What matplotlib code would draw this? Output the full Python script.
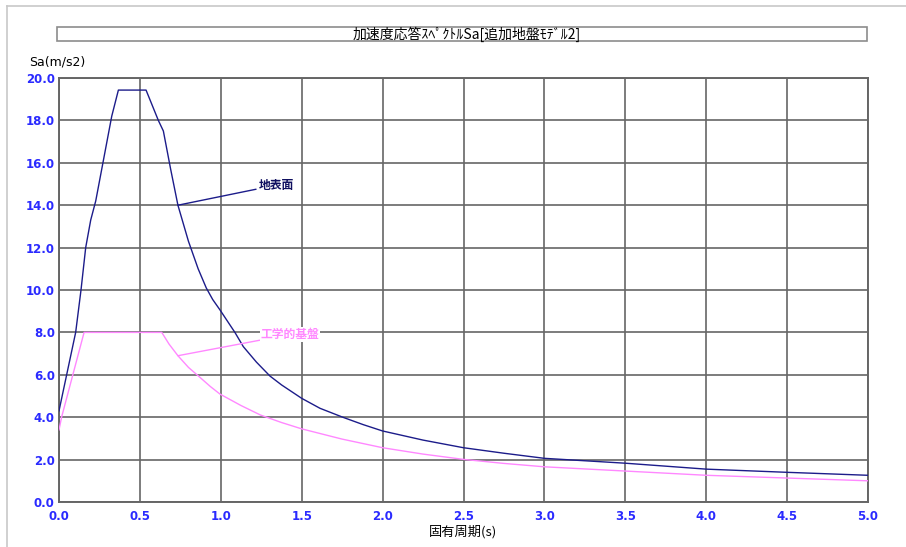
import matplotlib
matplotlib.use("Agg")
import matplotlib.pyplot as plt
from matplotlib.patches import Rectangle
from matplotlib.lines import Line2D

plt.rcParams['font.family'] = ['Noto Sans CJK JP', 'DejaVu Sans']

# 地表面 (ground surface)
T_sur = [0.0, 0.103, 0.136, 0.165, 0.196, 0.227, 0.326, 0.367, 0.538, 0.614, 0.645,
         0.69, 0.735, 0.80, 0.86, 0.91, 0.95, 0.995, 1.088, 1.139, 1.22, 1.304, 1.376,
         1.5, 1.613, 1.757, 1.88, 2.0, 2.25, 2.5, 2.75, 3.0, 3.5, 4.0, 4.5, 5.0]
Sa_sur = [4.3, 8.0, 10.0, 12.0, 13.3, 14.2, 18.2, 19.43, 19.43, 18.0, 17.5,
          15.7, 14.0, 12.3, 11.0, 10.1, 9.55, 9.06, 7.99, 7.33, 6.6, 5.94, 5.52,
          4.89, 4.42, 3.99, 3.65, 3.35, 2.92, 2.56, 2.30, 2.06, 1.83, 1.55, 1.40, 1.26]
# 工学的基盤 (engineering bedrock)
T_bed = [0.0, 0.016, 0.155, 0.635, 0.68, 0.735, 0.80, 0.871, 0.935, 0.995, 1.125,
         1.246, 1.375, 1.5, 1.748, 2.0, 2.25, 2.5, 2.75, 3.0, 3.5, 4.0, 4.5, 5.0]
Sa_bed = [3.4, 4.0, 8.0, 8.0, 7.45, 6.9, 6.35, 5.88, 5.45, 5.09, 4.55,
          4.10, 3.75, 3.45, 2.97, 2.56, 2.26, 2.01, 1.82, 1.66, 1.46, 1.26, 1.13, 1.0]

NAVY = "#1c1c8a"; PINK = "#ff88ff"; TICK = "#2a2aff"; GRID = "#666666"

fig = plt.figure(figsize=(9.06, 5.47), dpi=100)
W, H = 906, 547
ax = fig.add_axes([59/W, 1-502/H, (868-59)/W, (502-78)/H])

ax.plot(T_bed, Sa_bed, color=PINK, lw=1.0, zorder=3)
ax.plot(T_sur, Sa_sur, color=NAVY, lw=1.0, zorder=4)

ax.set_xlim(0, 5); ax.set_ylim(0, 20)
ax.set_xticks([i*0.5 for i in range(11)])
ax.set_yticks([i*2.0 for i in range(11)])
ax.set_xticklabels([f"{i*0.5:.1f}" for i in range(11)])
ax.set_yticklabels([f"{i*2.0:.1f}" for i in range(11)])
ax.tick_params(length=0, labelsize=8.5, labelcolor=TICK, pad=3)
ax.tick_params(axis="x", pad=6)
for lb in ax.get_xticklabels() + ax.get_yticklabels():
    lb.set_family("DejaVu Sans"); lb.set_fontweight("bold")
ax.grid(True, color=GRID, lw=1.2)
ax.set_axisbelow(True)
for s in ax.spines.values():
    s.set_color(GRID); s.set_linewidth(1.4)

ax.annotate("地表面", xy=(0.735, 14.0), xytext=(1.235, 14.95), color="#101060",
            fontsize=8.5, va="center", ha="left", fontweight="bold",
            arrowprops=dict(arrowstyle="-", color=NAVY, lw=1.0, shrinkA=0, shrinkB=0),
            zorder=6)
ax.annotate("工学的基盤", xy=(0.735, 6.9), xytext=(1.245, 7.9), color=PINK,
            fontsize=8.5, va="center", ha="left", fontweight="bold",
            bbox=dict(boxstyle="square,pad=0.05", fc="white", ec="none"),
            arrowprops=dict(arrowstyle="-", color=PINK, lw=1.0, shrinkA=0, shrinkB=0),
            zorder=6)

# title box
fig.patches.append(Rectangle((57/W, 1-41/H), (867-57)/W, 14/H, transform=fig.transFigure,
                             fc="white", ec="#8c8c8c", lw=1.2))
fig.text(467/W, 1-34/H, "加速度応答ｽﾍﾟｸﾄﾙSa[追加地盤ﾓﾃﾞﾙ2]", ha="center", va="center",
         fontsize=10, color="black")
fig.text(29/W, 1-62/H, "Sa(m/s2)", ha="left", va="center", fontsize=9, color="black",
         family="DejaVu Sans")
fig.text(463/W, 1-532/H, "固有周期(s)", ha="center", va="center", fontsize=9.5, color="black")

# outer frame lines
fig.add_artist(Line2D([7/W, 7/W], [0, 1-6/H], transform=fig.transFigure, color="#c8c8c8", lw=1.2))
fig.add_artist(Line2D([7/W, 1], [1-6/H, 1-6/H], transform=fig.transFigure, color="#c8c8c8", lw=1.2))

fig.savefig("out.png", dpi=100)
